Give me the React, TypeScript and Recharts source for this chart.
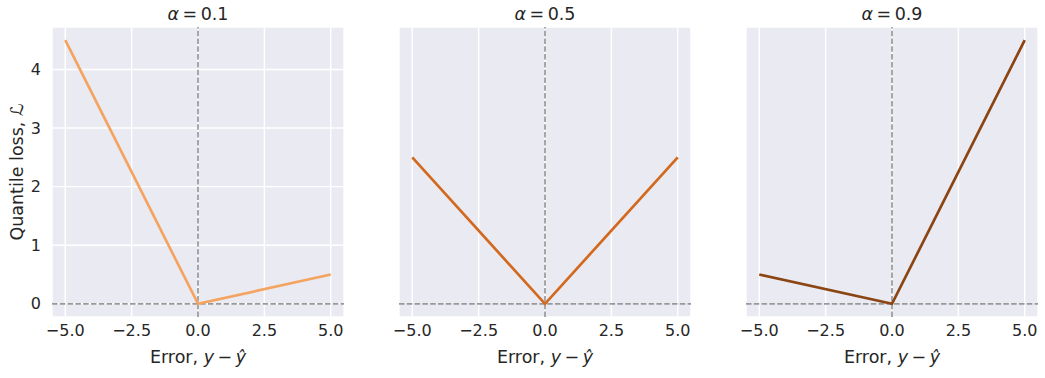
import React from "react";
import { LineChart, Line, XAxis, YAxis, CartesianGrid, ReferenceLine } from "recharts";

const errors = [-5, 0, 5];
const lossAlpha01 = [4.5, 0, 0.5];
const lossAlpha05 = [2.5, 0, 2.5];
const lossAlpha09 = [0.5, 0, 4.5];
const alphaLabels = ["0.1", "0.5", "0.9"];
const colors = ["#F4A460", "#D2691E", "#8B4513"];
const xTicks = [-5, -2.5, 0, 2.5, 5];
const yTicks = [0, 1, 2, 3, 4];

const data = errors.map((e, i) => ({
  e,
  a0: lossAlpha01[i],
  a1: lossAlpha05[i],
  a2: lossAlpha09[i],
}));

const FONT = "'DejaVu Sans', sans-serif";
const TXT = "#262626";
const TICK_FS = 16;
const LABEL_FS = 17.5;
const CHART_W = 348;
const CHART_H = 378;
const PANEL_STEP = 347;
const PLOT_LEFT = 52;
const PLOT_TOP = 27;
const PLOT_W = 292;

const fmtX = (v: number) => (v < 0 ? "\u2212" + Math.abs(v).toFixed(1) : v.toFixed(1));

const XLabel = (props: any) => {
  const vb = props.viewBox || {};
  const cx = vb.x + vb.width / 2;
  return (
    <text x={cx} y={vb.y + 46} textAnchor="middle" fill={TXT} fontSize={LABEL_FS} fontFamily={FONT}>
      Error, <tspan fontStyle="italic">y</tspan>{"\u2009\u2212\u2009"}<tspan fontStyle="italic">{"\u0177"}</tspan>
    </text>
  );
};

const YLabel = (props: any) => {
  const vb = props.viewBox || {};
  const cy = vb.y + vb.height / 2;
  const x = 23;
  return (
    <text x={x} y={cy} textAnchor="middle" fill={TXT} fontSize={LABEL_FS} fontFamily={FONT} transform={`rotate(-90 ${x} ${cy})`}>
      Quantile loss, <tspan fontStyle="italic">{"\u2112"}</tspan>
    </text>
  );
};

function Panel({ idx }: { idx: number }) {
  const showY = idx === 0;
  return (
    <div style={{ position: "absolute", left: idx * PANEL_STEP, top: 0, width: CHART_W, height: CHART_H }}>
      <div
        style={{
          position: "absolute",
          left: PLOT_LEFT,
          width: PLOT_W,
          top: 4,
          lineHeight: "20px",
          textAlign: "center",
          fontFamily: FONT,
          fontSize: LABEL_FS,
          color: TXT,
          whiteSpace: "nowrap",
        }}
      >
        <span style={{ fontStyle: "italic" }}>{"\u03B1"}</span>{"\u2009=\u2009"}{alphaLabels[idx]}
      </div>
      <LineChart width={CHART_W} height={CHART_H} data={data} margin={{ top: PLOT_TOP, right: 4, left: 0, bottom: 0 }}>
        <CartesianGrid stroke="#ffffff" strokeWidth={1.4} fill="#EAEAF2" />
        <XAxis
          type="number"
          dataKey="e"
          domain={[-5.5, 5.5]}
          ticks={xTicks}
          allowDataOverflow
          tickFormatter={fmtX}
          tickLine={false}
          axisLine={false}
          tickSize={0}
          tickMargin={8}
          height={61}
          tick={{ fill: TXT, fontSize: TICK_FS, fontFamily: FONT }}
          label={<XLabel />}
        />
        <YAxis
          type="number"
          domain={[-0.225, 4.725]}
          ticks={yTicks}
          allowDataOverflow
          width={PLOT_LEFT}
          tickLine={false}
          axisLine={false}
          tickSize={0}
          tickMargin={11}
          tick={showY ? { fill: TXT, fontSize: TICK_FS, fontFamily: FONT } : false}
          label={showY ? <YLabel /> : undefined}
        />
        <ReferenceLine x={0} stroke="#999999" strokeWidth={1.7} strokeDasharray="5.5 2.3" />
        <ReferenceLine y={0} stroke="#999999" strokeWidth={1.7} strokeDasharray="5.5 2.3" />
        <Line
          type="linear"
          dataKey={"a" + idx}
          stroke={colors[idx]}
          strokeWidth={2.7}
          dot={false}
          activeDot={false}
          isAnimationActive={false}
        />
      </LineChart>
    </div>
  );
}

export default function App() {
  return (
    <div style={{ position: "absolute", left: 0, top: 0, width: 1045, height: 378, background: "#ffffff" }}>
      {[0, 1, 2].map((i) => (
        <Panel key={i} idx={i} />
      ))}
    </div>
  );
}
